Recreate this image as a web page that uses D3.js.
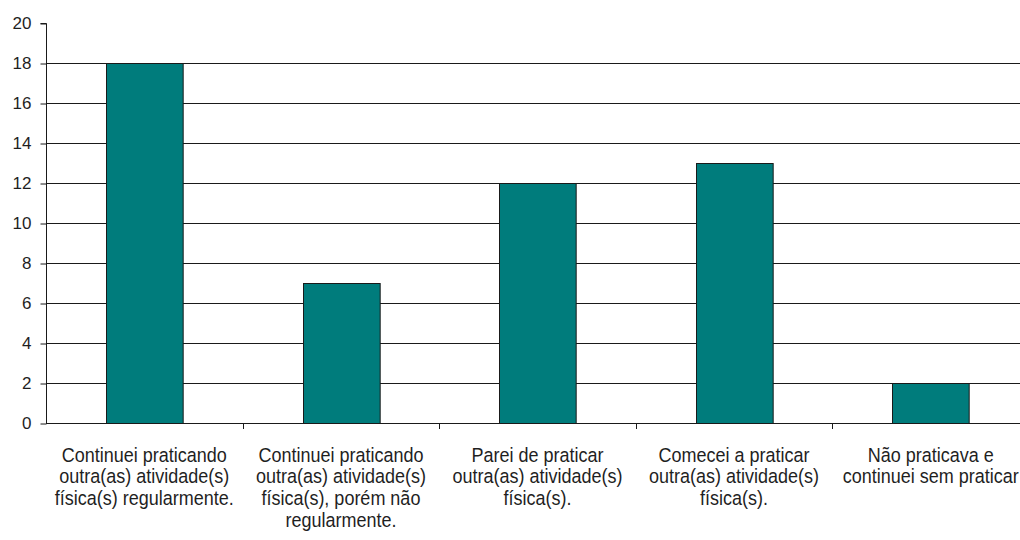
<!DOCTYPE html>
<html>
<head>
<meta charset="utf-8">
<script src="https://cdn.jsdelivr.net/npm/d3@7"></script>
<style>
  html, body { margin: 0; padding: 0; background: #fff; overflow: hidden; }
  svg { display: block; }
  text { font-family: "Liberation Sans", Arial, sans-serif; fill: #1f1f1f; }
</style>
</head>
<body>
<svg id="chart" width="1020" height="540"></svg>
<script>
// Respostas sobre a prática de atividade física
const categories = [
  ["Continuei praticando", "outra(as) atividade(s)", "física(s) regularmente."],
  ["Continuei praticando", "outra(as) atividade(s)", "física(s), porém não", "regularmente."],
  ["Parei de praticar", "outra(as) atividade(s)", "física(s)."],
  ["Comecei a praticar", "outra(as) atividade(s)", "física(s)."],
  ["Não praticava e", "continuei sem praticar"]
];
const values = [18, 7, 12, 13, 2];
const yTicks = [0, 2, 4, 6, 8, 10, 12, 14, 16, 18, 20];

const svg = d3.select("#chart");
const plotLeft = 46, plotRight = 1029, plotTop = 23, plotBottom = 423;

const x = d3.scaleBand()
  .domain(d3.range(values.length))
  .range([plotLeft, plotRight])
  .paddingInner(0.61)
  .paddingOuter(0.305);
const xOuter = d3.scaleBand().domain(d3.range(values.length)).range([plotLeft, plotRight]);

const y = d3.scaleLinear().domain([0, 20]).range([plotBottom, plotTop]);

// Horizontal gridlines (none at the top value)
svg.append("g")
  .selectAll("line")
  .data(yTicks.filter(d => d > 0 && d < 20))
  .join("line")
  .attr("x1", plotLeft).attr("x2", 1020)
  .attr("y1", d => Math.round(y(d)) + 0.5)
  .attr("y2", d => Math.round(y(d)) + 0.5)
  .attr("stroke", "#1a1a1a").attr("stroke-width", 1);

// Bars
svg.append("g")
  .selectAll("rect")
  .data(values)
  .join("rect")
  .attr("x", (d, i) => Math.round(x(i)) + 0.5)
  .attr("y", d => Math.round(y(d)) + 0.5)
  .attr("width", x.bandwidth())
  .attr("height", d => Math.round(y(0)) - Math.round(y(d)))
  .attr("fill", "#007c7c")
  .attr("stroke", "#1a1a1a")
  .attr("stroke-width", 1);

// Y axis
const yAxis = d3.axisLeft(y).tickValues(yTicks).tickSize(6).tickPadding(9);
const gy = svg.append("g").attr("transform", `translate(${plotLeft + 0.5},0.5)`).call(yAxis);
gy.select(".domain").attr("d", `M-6,${y(20)}H0V${y(0)}`).attr("stroke", "#1a1a1a");
gy.selectAll(".tick line").attr("stroke", "#1a1a1a");
gy.selectAll(".tick text").attr("font-size", "17px").attr("fill", "#1f1f1f")
  .attr("font-family", "'Liberation Sans', Arial, sans-serif");

// X axis baseline and category separators
svg.append("line")
  .attr("x1", plotLeft).attr("x2", 1020)
  .attr("y1", plotBottom + 0.5).attr("y2", plotBottom + 0.5)
  .attr("stroke", "#1a1a1a");
svg.append("g")
  .selectAll("line")
  .data(d3.range(1, values.length))
  .join("line")
  .attr("x1", i => Math.round(xOuter(i)) + 0.5)
  .attr("x2", i => Math.round(xOuter(i)) + 0.5)
  .attr("y1", plotBottom).attr("y2", plotBottom + 6)
  .attr("stroke", "#1a1a1a");

// Category labels, one text per line, slightly tall lettering
const groups = svg.append("g")
  .selectAll("g")
  .data(categories)
  .join("g");
groups.selectAll("text")
  .data((d, i) => d.map((line, j) => ({ line, i, j })))
  .join("text")
  .attr("text-anchor", "middle")
  .attr("font-size", "18px")
  .attr("transform", d =>
    `translate(${x(d.i) + x.bandwidth() / 2},${461.5 + d.j * 21.7}) scale(1,1.16)`)
  .text(d => d.line);
</script>
</body>
</html>
